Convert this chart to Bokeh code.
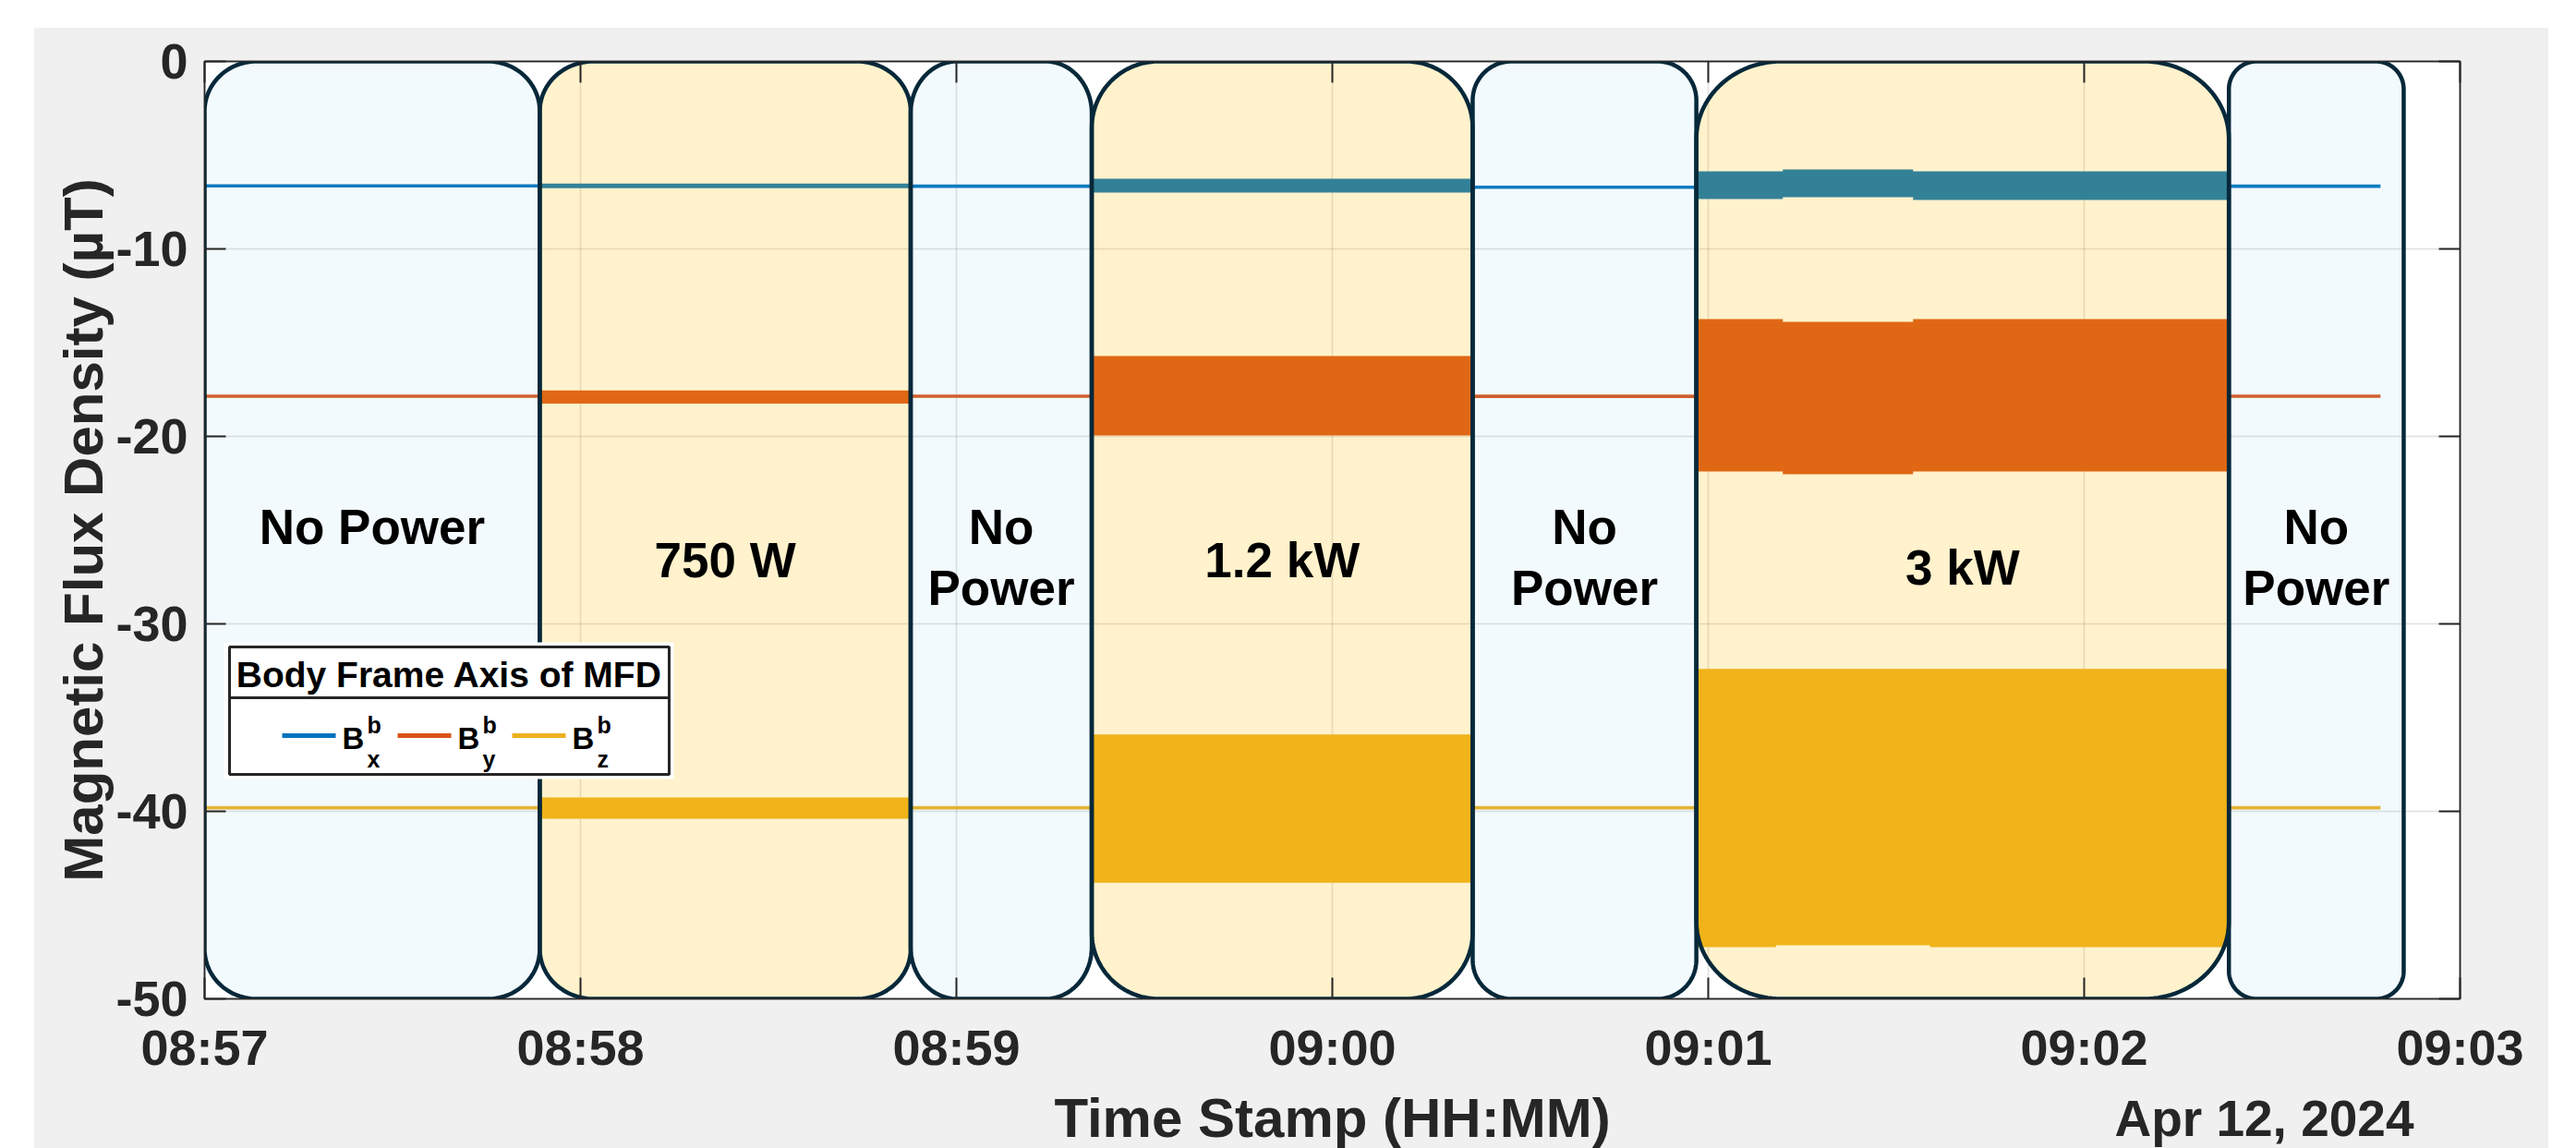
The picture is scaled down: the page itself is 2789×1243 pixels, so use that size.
import numpy as np
import pandas as pd
from bokeh.plotting import figure
from bokeh.layouts import column
from bokeh.models import (FixedTicker, DatetimeTickFormatter, LinearAxis, DatetimeAxis,
                          Range1d, PrintfTickFormatter, CustomJSTickFormatter)
from bokeh.core.properties import value
from bokeh.embed import file_html
from bokeh.resources import INLINE

# ---------------- data ----------------
date_label = "Apr 12, 2024"
x_axis_title = "Time Stamp (HH:MM)"
y_axis_title = "Magnetic Flux Density (µT)"
legend_title = "Body Frame Axis of MFD"
t_origin = pd.Timestamp("2024-04-12 08:57:00")
x_tick_minutes = [0, 1, 2, 3, 4, 5, 6]            # 08:57 ... 09:03
y_ticks = [-50, -40, -30, -20, -10, 0]

# operating phases (seconds after 08:57:00)
phase_names = ["No Power", "750 W", "No\nPower", "1.2 kW", "No\nPower", "3 kW", "No\nPower"]
phase_start_s = [0.0, 53.5, 112.7, 141.6, 202.4, 238.1, 323.1]
phase_end_s = [53.5, 112.7, 141.6, 202.4, 238.1, 323.1, 351.0]
phase_powered = [False, True, False, True, False, True, False]

# measured envelope of each body-frame component (µT) per time segment
seg_start_s = [0.0, 53.5, 112.7, 141.6, 202.4, 238.1, 251.9, 272.7, 323.1]
seg_end_s = [53.5, 112.7, 141.6, 202.4, 238.1, 251.9, 272.7, 323.1, 347.3]
bx_high = [-6.55, -6.52, -6.57, -6.26, -6.62, -5.86, -5.76, -5.86, -6.57]
bx_low = [-6.72, -6.76, -6.75, -7.00, -6.80, -7.34, -7.24, -7.39, -6.75]
by_high = [-17.77, -17.55, -17.77, -15.71, -17.77, -13.74, -13.89, -13.74, -17.77]
by_low = [-17.94, -18.25, -17.94, -19.95, -17.96, -21.87, -22.02, -21.87, -17.94]
bz_seg_start_s = [0.0, 53.5, 112.7, 141.6, 202.4, 238.1, 250.8, 275.4, 323.1]
bz_seg_end_s = [53.5, 112.7, 141.6, 202.4, 238.1, 250.8, 275.4, 323.1, 347.3]
bz_high = [-39.72, -39.26, -39.72, -35.90, -39.72, -32.40, -32.40, -32.40, -39.72]
bz_low = [-39.90, -40.40, -39.90, -43.80, -39.90, -47.24, -47.14, -47.24, -39.90]

series_names = ["x", "y", "z"]
series_colors = ["#0072BD", "#D95319", "#EDB120"]

# ---------------- layout / style ----------------
FONT = "Liberation Sans"
BG = "#f0f0f0"
PAGE_L, PAGE_T = 37, 30
FRAME_L, FRAME_T, FRAME_W, FRAME_H = 221, 66, 2442, 1015
BORDER_L, BORDER_R, BORDER_T, BORDER_B = 184, 96, 36, 96
STRIP_H = 66
Y0, Y1 = -50, 0


def ms(sec):
    return (t_origin + pd.Timedelta(seconds=float(sec))).value / 1e6


X0 = ms(0)
X1 = ms(360)


def px2x(px):
    return X0 + (px - FRAME_L) / FRAME_W * (X1 - X0)


def px2y(py):
    return Y1 - (py - FRAME_T) / FRAME_H * (Y1 - Y0)


def dx(px):
    return px / FRAME_W * (X1 - X0)


def dy(py):
    return py / FRAME_H * (Y1 - Y0)


p = figure(x_axis_type="datetime", frame_width=FRAME_W, frame_height=FRAME_H,
           x_range=Range1d(X0, X1), y_range=Range1d(Y0, Y1),
           output_backend="svg", toolbar_location=None, title_location=None,
           min_border_left=BORDER_L, min_border_right=BORDER_R,
           min_border_top=BORDER_T, min_border_bottom=BORDER_B)
p.background_fill_color = "white"
p.border_fill_color = BG
p.outline_line_color = "#262626"
p.outline_line_width = 1.5

xticker = FixedTicker(ticks=[ms(m * 60) for m in x_tick_minutes])
yticker = FixedTicker(ticks=y_ticks)
fmt = DatetimeTickFormatter(seconds="%H:%M", minsec="%H:%M", minutes="%H:%M",
                            hourmin="%H:%M", hours="%H:%M", days="%H:%M")

for ax in (p.xaxis[0], p.yaxis[0]):
    ax.major_tick_in = 23
    ax.major_tick_out = 0
    ax.minor_tick_line_color = None
    ax.major_tick_line_width = 2
    ax.major_tick_line_color = "#262626"
    ax.axis_line_color = "#262626"
    ax.axis_line_width = 1.5
    ax.major_label_text_font = FONT
    ax.major_label_text_font_style = "bold"
    ax.major_label_text_font_size = "54px"
    ax.major_label_text_color = "#262626"

p.xaxis[0].ticker = xticker
p.xaxis[0].formatter = fmt
p.xaxis[0].major_label_standoff = 22
p.yaxis[0].ticker = yticker
p.yaxis[0].formatter = PrintfTickFormatter(format="%d")
p.yaxis[0].major_label_standoff = 18
p.yaxis[0].axis_label = y_axis_title
p.yaxis[0].axis_label_text_font = FONT
p.yaxis[0].axis_label_text_font_style = "bold"
p.yaxis[0].axis_label_text_font_size = "60px"
p.yaxis[0].axis_label_text_color = "#262626"
p.yaxis[0].axis_label_standoff = -2

blank = CustomJSTickFormatter(code="return '';")
top_ax = DatetimeAxis(ticker=xticker, formatter=blank)
right_ax = LinearAxis(ticker=yticker, formatter=blank)
for ax in (top_ax, right_ax):
    ax.major_tick_in = 23
    ax.major_tick_out = 0
    ax.minor_tick_line_color = None
    ax.major_tick_line_width = 2
    ax.major_tick_line_color = "#262626"
    ax.axis_line_color = "#262626"
    ax.axis_line_width = 1.5
    ax.major_label_standoff = 0
p.add_layout(top_ax, "above")
p.add_layout(right_ax, "right")

p.xgrid.ticker = xticker
p.ygrid.ticker = yticker
p.grid.grid_line_color = "#262626"
p.grid.grid_line_alpha = 0.15
p.grid.grid_line_width = 1.5


# ---------------- data bands ----------------
def step_band(starts, ends, lows, highs):
    xs, y1, y2 = [], [], []
    for s, e, lo, hi in zip(starts, ends, lows, highs):
        xs += [ms(s), ms(e)]
        y1 += [lo, lo]
        y2 += [hi, hi]
    return xs, y1, y2


for (st, en, lo, hi), col in zip([(seg_start_s, seg_end_s, bx_low, bx_high),
                                  (seg_start_s, seg_end_s, by_low, by_high),
                                  (bz_seg_start_s, bz_seg_end_s, bz_low, bz_high)],
                                 series_colors):
    xs, y1, y2 = step_band(st, en, lo, hi)
    p.varea(x=xs, y1=y1, y2=y2, fill_color=col)

# ---------------- phase boxes (rounded rectangles) ----------------
corner_px = [(56, 54), (58, 54), (50, 56), (72, 72), (42, 42), (92, 84), (30, 30)]


def rounded_box(xa, xb, ya, yb, rx, ry, n=30):
    xs, ys = [], []
    corners = [(xb - rx, yb - ry, 0.0), (xa + rx, yb - ry, 0.5 * np.pi),
               (xa + rx, ya + ry, np.pi), (xb - rx, ya + ry, 1.5 * np.pi)]
    for cx, cy, a0 in corners:
        th = np.linspace(a0, a0 + 0.5 * np.pi, n)
        xs.extend(cx + rx * np.cos(th))
        ys.extend(cy + ry * np.sin(th))
    return xs, ys


box_xs, box_ys, box_fill, box_alpha = [], [], [], []
for s, e, on, (rxp, ryp) in zip(phase_start_s, phase_end_s, phase_powered, corner_px):
    bxs, bys = rounded_box(ms(s), ms(e), Y0, Y1, dx(rxp), dy(ryp))
    box_xs.append(bxs)
    box_ys.append(bys)
    box_fill.append("#FFBF00" if on else "#8CD2F0")
    box_alpha.append(0.2 if on else 0.1)

p.patches(xs=box_xs, ys=box_ys, fill_color=box_fill, fill_alpha=box_alpha,
          line_color="#06283A", line_width=4.5)

# ---------------- phase texts (cap centres in px) ----------------
txt_x, txt_y, txt_t = [], [], []
for s, e, name, on in zip(phase_start_s, phase_end_s, phase_names, phase_powered):
    cx = (ms(s) + ms(e)) / 2
    lines = name.split("\n")
    if len(lines) == 2:
        for ln, py in zip(lines, (570, 636)):
            txt_x.append(cx); txt_y.append(px2y(py)); txt_t.append(ln)
    elif on:
        py = 614 if name == "3 kW" else 606
        txt_x.append(cx); txt_y.append(px2y(py)); txt_t.append(name)
    else:
        txt_x.append(cx); txt_y.append(px2y(570)); txt_t.append(name)

p.text(x=txt_x, y=txt_y, text=txt_t, text_font=value(FONT), text_font_style="bold",
       text_font_size="53px", text_align="center", text_baseline="middle",
       text_color="black")

# ---------------- legend (custom) ----------------
p.quad(left=[px2x(242)], right=[px2x(729)], top=[px2y(695)], bottom=[px2y(843)],
       fill_color="white", line_color=None)
p.quad(left=[px2x(248)], right=[px2x(724)], top=[px2y(700)], bottom=[px2y(838)],
       fill_color=None, line_color="#262626", line_width=3)
p.segment(x0=[px2x(248)], x1=[px2x(724)], y0=[px2y(755)], y1=[px2y(755)],
          line_color="#262626", line_width=3)
p.text(x=[px2x(486)], y=[px2y(730)], text=[legend_title],
       text_font=value(FONT), text_font_style="bold", text_font_size="39px",
       text_align="center", text_baseline="middle", text_color="black")

leg_line_px = [(305, 363), (430, 488), (554, 612)]
leg_b_px = [370, 495, 619]
p.segment(x0=[px2x(a) for a, b in leg_line_px], x1=[px2x(b) for a, b in leg_line_px],
          y0=[px2y(796)] * 3, y1=[px2y(796)] * 3, line_color=series_colors, line_width=5)
p.text(x=[px2x(b) for b in leg_b_px], y=[px2y(799)] * 3, text=["B"] * 3,
       text_font=value(FONT), text_font_style="bold", text_font_size="33px",
       text_align="left", text_baseline="middle", text_color="black")
p.text(x=[px2x(b + 27) for b in leg_b_px], y=[px2y(784)] * 3, text=["b"] * 3,
       text_font=value(FONT), text_font_style="bold", text_font_size="25px",
       text_align="left", text_baseline="middle", text_color="black")
p.text(x=[px2x(b + 27) for b in leg_b_px], y=[px2y(821)] * 3, text=series_names,
       text_font=value(FONT), text_font_style="bold", text_font_size="25px",
       text_align="left", text_baseline="middle", text_color="black")

# ---------------- strip under the axis: axis title and date ----------------
strip_top = PAGE_T + BORDER_T + FRAME_H + BORDER_B
q = figure(frame_width=FRAME_W, frame_height=STRIP_H,
           x_range=Range1d(FRAME_L, FRAME_L + FRAME_W),
           y_range=Range1d(strip_top + STRIP_H, strip_top),
           x_axis_location=None, y_axis_location=None, title_location=None,
           min_border_left=BORDER_L, min_border_right=BORDER_R,
           min_border_top=0, min_border_bottom=0,
           output_backend="svg", toolbar_location=None)
q.grid.visible = False
q.outline_line_color = None
q.background_fill_color = BG
q.border_fill_color = BG
q.text(x=[FRAME_L + FRAME_W / 2], y=[1210], text=[x_axis_title],
       text_font=value(FONT), text_font_style="bold", text_font_size="60px",
       text_align="center", text_baseline="middle", text_color="#262626")
q.text(x=[2613], y=[1210], text=[date_label],
       text_font=value(FONT), text_font_style="bold", text_font_size="55px",
       text_align="right", text_baseline="middle", text_color="#262626")

layout = column(p, q, spacing=0, margin=(PAGE_T, 0, -8, PAGE_L),
                styles={"background-color": BG})
open("out.html", "w").write(file_html(layout, INLINE))
